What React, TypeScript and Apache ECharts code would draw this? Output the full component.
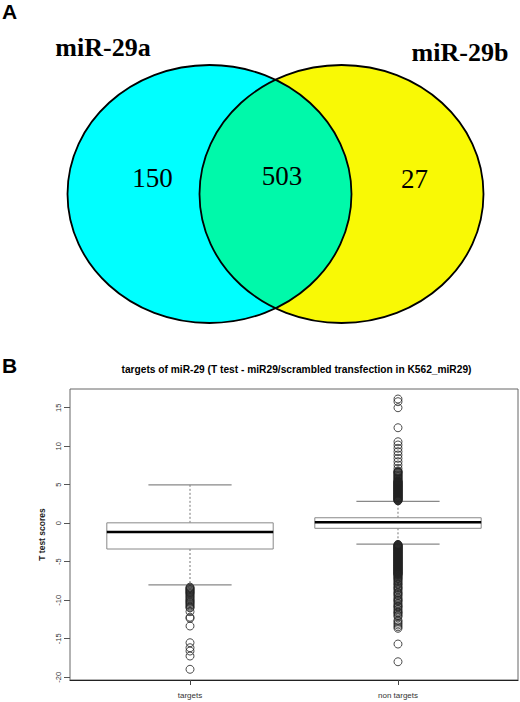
import React, { useEffect, useRef } from "react";
import * as echarts from "echarts";

// ---- Panel A (Venn) data ----
const vennSets = ["miR-29a", "miR-29b"];
const vennCounts = [150, 503, 27]; // only miR-29a, both, only miR-29b

// ---- Panel B (boxplot) data ----
const categories = ["targets", "non targets"];
const boxLow = [-8.0, -2.72];
const boxQ1 = [-3.35, -0.66];
const boxMedian = [-1.14, 0.12];
const boxQ3 = [0.05, 0.71];
const boxHigh = [4.98, 2.84];
const yTicks = [-20, -15, -10, -5, 0, 5, 10, 15];

const targetsOutliers = [
  -8.3, -8.4, -8.5, -8.6, -8.7, -8.8, -8.9, -9.0, -9.1, -9.2, -9.35, -9.5, -9.63,
  -9.8, -9.95, -10.06, -10.2, -10.3, -10.45, -10.6, -10.75, -10.9, -11.0, -11.49,
  -12.2, -12.35, -13.35, -15.52, -16.17, -16.6, -17.25, -18.97,
];

const nonTargetsOutliers = [
  16.13, 15.78, 15.0, 12.4, 10.58, 10.16, 9.73, 9.29, 8.86, 8.43, 7.99, 7.56, 7.13,
  6.8, 6.7, 6.65, 6.6, 6.5, 6.4, 6.3, 6.2, 6.1, 6.0, 5.9, 5.8, 5.7, 5.6, 5.5,
  5.45, 5.4, 5.35, 5.3, 5.25, 5.2, 5.15, 5.1, 5.05, 5.0, 4.95, 4.9, 4.85, 4.8,
  4.75, 4.7, 4.65, 4.6, 4.55, 4.5, 4.45, 4.4, 4.35, 4.3, 4.25, 4.2, 4.15, 4.1,
  4.05, 4.0, 3.95, 3.9, 3.85, 3.8, 3.75, 3.7, 3.65, 3.6, 3.55, 3.5, 3.45, 3.4,
  3.35, 3.3, 3.25, 3.2, 3.15, 3.1, 3.05, 3.0, 2.95, 2.9,
  -2.75, -2.8, -2.85, -2.9, -2.95, -3.0, -3.05, -3.1, -3.15, -3.2, -3.25, -3.3,
  -3.35, -3.4, -3.45, -3.5, -3.55, -3.6, -3.65, -3.7, -3.75, -3.8, -3.85, -3.9,
  -3.95, -4.0, -4.05, -4.1, -4.15, -4.2, -4.25, -4.3, -4.35, -4.4, -4.45, -4.5,
  -4.55, -4.6, -4.65, -4.7, -4.75, -4.8, -4.85, -4.9, -4.95, -5.0, -5.05, -5.1,
  -5.15, -5.2, -5.25, -5.3, -5.35, -5.4, -5.45, -5.5, -5.55, -5.6, -5.65, -5.7,
  -5.75, -5.8, -5.85, -5.9, -5.95, -6.0, -6.05, -6.1, -6.15, -6.2, -6.25, -6.3,
  -6.35, -6.4, -6.45, -6.5, -6.55, -6.6, -6.65, -6.7, -6.8, -6.9, -7.0, -7.1,
  -7.2, -7.3, -7.45, -7.6, -7.75, -7.9, -8.0, -8.2, -8.35, -8.45, -8.6, -8.8,
  -9.0, -9.1, -9.25, -9.4, -9.6, -9.8, -9.95, -10.05, -10.2, -10.4, -10.6, -10.75,
  -10.85, -11.0, -11.2, -11.4, -11.55, -11.65, -11.8, -12.0, -12.15, -12.6,
  -12.79, -13.0, -13.22, -13.45, -13.65, -15.69, -17.99,
];

// ---- Venn layout (pixels) ----
const VL = { cx: 209.5, cy: 194, rx: 142, ry: 129 };
const VR = { cx: 341.5, cy: 194, rx: 142, ry: 129 };

const SANS = '"Liberation Sans", Arial, Helvetica, sans-serif';
const SERIF = '"Liberation Serif", "Times New Roman", serif';

let lensRegistered = false;
function registerLens() {
  if (lensRegistered) return;
  const xm = (VL.cx + VR.cx) / 2;
  const dy = VL.ry * Math.sqrt(1 - Math.pow((xm - VL.cx) / VL.rx, 2));
  const d =
    `M${xm} ${VL.cy - dy} ` +
    `A${VR.rx} ${VR.ry} 0 0 0 ${xm} ${VL.cy + dy} ` +
    `A${VL.rx} ${VL.ry} 0 0 0 ${xm} ${VL.cy - dy} Z`;
  echarts.graphic.registerShape("vennLens", echarts.graphic.extendPath(d, {}));
  lensRegistered = true;
}

function txt(text: string, x: number, y: number, font: string, align = "center") {
  return {
    type: "text",
    x,
    y,
    silent: true,
    style: {
      text,
      font,
      fill: "#000",
      textAlign: align,
      align,
      textVerticalAlign: "middle",
      verticalAlign: "middle",
    },
  };
}

export default function App() {
  const ref = useRef<HTMLDivElement>(null);

  useEffect(() => {
    if (!ref.current) return;
    registerLens();
    const chart = echarts.init(ref.current, undefined, { renderer: "svg" });

    const boxData = categories.map((c, i) => [
      i + 1,
      boxLow[i],
      boxQ1[i],
      boxMedian[i],
      boxQ3[i],
      boxHigh[i],
    ]);

    const outlierStyle = { color: "transparent", borderColor: "#222", borderWidth: 1 };

    const option: any = {
      animation: false,
      backgroundColor: "#ffffff",
      grid: {
        left: 70,
        right: 2,
        top: 389,
        bottom: 22,
        show: true,
        borderColor: "#666",
        borderWidth: 1,
        backgroundColor: "transparent",
      },
      xAxis: {
        type: "value",
        min: 0.423,
        max: 2.577,
        splitLine: { show: false },
        axisLine: { show: true, onZero: false, lineStyle: { color: "#222", width: 1.2 } },
        axisTick: {
          show: true,
          customValues: [1, 2],
          length: 5,
          lineStyle: { color: "#444" },
        },
        axisLabel: {
          customValues: [1, 2],
          formatter: (v: number) => categories[Math.round(v) - 1] ?? "",
          fontSize: 8,
          color: "#333",
          margin: 11,
          fontFamily: SANS,
        },
      },
      yAxis: {
        type: "value",
        min: -20.36,
        max: 17.43,
        splitLine: { show: false },
        axisLine: { show: false },
        axisTick: {
          show: true,
          customValues: yTicks,
          length: 6,
          lineStyle: { color: "#555" },
        },
        axisLabel: {
          customValues: yTicks,
          rotate: 90,
          fontSize: 7.5,
          color: "#333",
          margin: 8,
          fontFamily: SANS,
        },
        name: "T test scores",
        nameLocation: "middle",
        nameGap: 22,
        nameRotate: 90,
        nameTextStyle: { fontWeight: "bold", fontSize: 8.5, color: "#222", fontFamily: SANS },
      },
      series: [
        {
          type: "custom",
          silent: true,
          data: boxData,
          encode: { x: 0, y: [1, 2, 3, 4, 5] },
          renderItem: (params: any, api: any) => {
            const x = api.value(0);
            const pLow = api.coord([x, api.value(1)]);
            const pQ1 = api.coord([x, api.value(2)]);
            const pMed = api.coord([x, api.value(3)]);
            const pQ3 = api.coord([x, api.value(4)]);
            const pHigh = api.coord([x, api.value(5)]);
            const halfW = api.size([0.4, 0])[0];
            const capHalf = api.size([0.2, 0])[0];
            const cx = pMed[0];
            return {
              type: "group",
              children: [
                {
                  type: "line",
                  shape: { x1: cx, y1: pQ3[1], x2: cx, y2: pHigh[1] },
                  style: { stroke: "#777", lineWidth: 1, lineDash: [2, 2] },
                },
                {
                  type: "line",
                  shape: { x1: cx, y1: pQ1[1], x2: cx, y2: pLow[1] },
                  style: { stroke: "#777", lineWidth: 1, lineDash: [2, 2] },
                },
                {
                  type: "line",
                  shape: { x1: cx - capHalf, y1: pHigh[1], x2: cx + capHalf, y2: pHigh[1] },
                  style: { stroke: "#888", lineWidth: 1.3 },
                },
                {
                  type: "line",
                  shape: { x1: cx - capHalf, y1: pLow[1], x2: cx + capHalf, y2: pLow[1] },
                  style: { stroke: "#888", lineWidth: 1.3 },
                },
                {
                  type: "rect",
                  shape: {
                    x: cx - halfW,
                    y: pQ3[1],
                    width: 2 * halfW,
                    height: pQ1[1] - pQ3[1],
                  },
                  style: { fill: "#fff", stroke: "#888", lineWidth: 1 },
                },
                {
                  type: "line",
                  shape: { x1: cx - halfW, y1: pMed[1], x2: cx + halfW, y2: pMed[1] },
                  style: { stroke: "#000", lineWidth: 2.5 },
                },
              ],
            };
          },
          z: 2,
        },
        {
          type: "scatter",
          silent: true,
          symbol: "circle",
          symbolSize: 8,
          data: targetsOutliers.map((v) => [1, v]),
          itemStyle: outlierStyle,
          z: 3,
        },
        {
          type: "scatter",
          silent: true,
          symbol: "circle",
          symbolSize: 8,
          data: nonTargetsOutliers.map((v) => [2, v]),
          itemStyle: outlierStyle,
          z: 3,
        },
      ],
      graphic: [
        txt("A", 9.5, 11, `bold 21px ${SANS}`),
        {
          type: "ellipse",
          silent: true,
          shape: { cx: VL.cx, cy: VL.cy, rx: VL.rx, ry: VL.ry },
          style: { fill: "#00FFFF" },
        },
        {
          type: "ellipse",
          silent: true,
          shape: { cx: VR.cx, cy: VR.cy, rx: VR.rx, ry: VR.ry },
          style: { fill: "#F9F905" },
        },
        {
          type: "vennLens",
          silent: true,
          x: 0,
          y: 0,
          scaleX: 1,
          scaleY: 1,
          style: { fill: "#00F9AA" },
        },
        {
          type: "ellipse",
          silent: true,
          shape: { cx: VL.cx, cy: VL.cy, rx: VL.rx, ry: VL.ry },
          style: { fill: "none", stroke: "#000", lineWidth: 1.8 },
        },
        {
          type: "ellipse",
          silent: true,
          shape: { cx: VR.cx, cy: VR.cy, rx: VR.rx, ry: VR.ry },
          style: { fill: "none", stroke: "#000", lineWidth: 1.8 },
        },
        txt(vennSets[0], 103, 47, `bold 26px ${SERIF}`),
        txt(vennSets[1], 460, 52, `bold 26px ${SERIF}`),
        txt(String(vennCounts[0]), 152.5, 178, `27px ${SERIF}`),
        txt(String(vennCounts[1]), 282, 176, `27px ${SERIF}`),
        txt(String(vennCounts[2]), 414.5, 179, `27px ${SERIF}`),
        txt("B", 9.5, 365, `bold 21px ${SANS}`),
        txt(
          "targets of miR-29 (T test - miR29/scrambled transfection in K562_miR29)",
          296.5,
          369,
          `bold 10.2px ${SANS}`
        ),
      ],
    };

    chart.setOption(option);
    return () => {
      chart.dispose();
    };
  }, []);

  return (
    <div
      ref={ref}
      style={{ position: "absolute", left: 0, top: 0, width: 520, height: 702 }}
    />
  );
}
